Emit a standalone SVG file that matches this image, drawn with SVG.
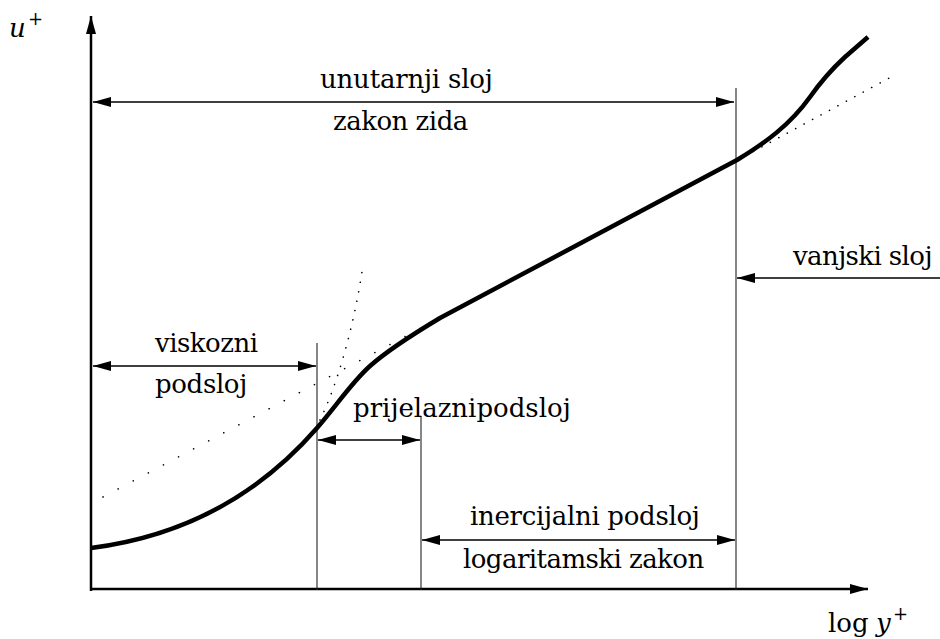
<svg xmlns="http://www.w3.org/2000/svg" width="940" height="639" viewBox="0 0 940 639">
<style>
.t{font-size:26px;fill:#000}
.it{font-style:italic}
.sup{font-size:18px}
.axis{stroke:#000;stroke-width:2.5;fill:none}
.dim{stroke:#000;stroke-width:1.3;fill:none}
.sep{stroke:#222;stroke-width:1.1;fill:none}
.curve{stroke:#000;stroke-width:4.5;fill:none;stroke-linejoin:round;stroke-linecap:butt}
.dot{stroke:#000;stroke-width:1.6;fill:none;stroke-linecap:round}
</style>
<defs>
<marker id="ah" markerUnits="userSpaceOnUse" markerWidth="19" markerHeight="11" refX="18" refY="5" orient="auto-start-reverse" viewBox="0 0 19 11">
<path d="M0,0 L18,5 L0,10 z" fill="#000"/>
</marker>
</defs>
<rect width="940" height="639" fill="#fff"/>
<g id="axes" font-family="DejaVu Serif, serif">
<line class="axis" x1="91" y1="591" x2="91" y2="16" marker-end="url(#ah)"/>
<line class="axis" x1="90" y1="589" x2="868" y2="589" marker-end="url(#ah)"/>
<text class="t it" x="9" y="37">u</text>
<text class="t sup" x="28" y="25">+</text>
<text class="t" x="828" y="632">log</text>
<text class="t it" x="876" y="632">y</text>
<text class="t sup" x="893" y="620">+</text>
</g>
<g id="separators">
<line class="sep" x1="317" y1="343" x2="317" y2="590"/>
<line class="sep" x1="421" y1="416" x2="421" y2="590"/>
<line class="sep" x1="736" y1="88" x2="736" y2="590"/>
</g>
<g id="dotted">
<path class="dot" d="M103,497 L440,318" stroke-dasharray="0.1 17"/>
<path class="dot" d="M745,156 L893,76" stroke-dasharray="0.1 9.5"/>
<path class="dot" d="M320,420 C 337,385 353,330 362,272" stroke-dasharray="0.1 9.5"/>
</g>
<g id="profile">
<path class="curve" d="M91,548 C 170,538 250,505 317,428 C 337,405 352,382 370,366 C 388,350 410,336 440,318 L 737,160 C 765,143 790,125 810,97 C 822,80 832,69 845,57 L 868,37"/>
</g>
<g id="connectors">
<line class="dim" x1="93" y1="102" x2="734" y2="102" marker-start="url(#ah)" marker-end="url(#ah)"/>
<line class="dim" x1="93" y1="366" x2="316" y2="366" marker-start="url(#ah)" marker-end="url(#ah)"/>
<line class="dim" x1="318" y1="440" x2="420" y2="440" marker-start="url(#ah)" marker-end="url(#ah)"/>
<line class="dim" x1="422" y1="540" x2="735" y2="540" marker-start="url(#ah)" marker-end="url(#ah)"/>
<line class="dim" x1="940" y1="278" x2="737" y2="278" marker-end="url(#ah)"/>
</g>
<g id="label-unutarnji" font-family="DejaVu Serif, serif">
<text class="t" x="320" y="88" letter-spacing="-0.2">unutarnji sloj</text>
<text class="t" x="333" y="130" letter-spacing="-0.5">zakon zida</text>
</g>
<g id="label-viskozni" font-family="DejaVu Serif, serif">
<text class="t" x="155" y="352" letter-spacing="-0.5">viskozni</text>
<text class="t" x="155" y="393" letter-spacing="-0.35">podsloj</text>
</g>
<g id="label-prijelazni" font-family="DejaVu Serif, serif">
<text class="t" x="353" y="417">prijelaznipodsloj</text>
</g>
<g id="label-inercijalni" font-family="DejaVu Serif, serif">
<text class="t" x="470" y="525" letter-spacing="-0.3">inercijalni podsloj</text>
<text class="t" x="463" y="568" letter-spacing="-0.55">logaritamski zakon</text>
</g>
<g id="label-vanjski" font-family="DejaVu Serif, serif">
<text class="t" x="793" y="265" letter-spacing="-0.6">vanjski sloj</text>
</g>
</svg>
